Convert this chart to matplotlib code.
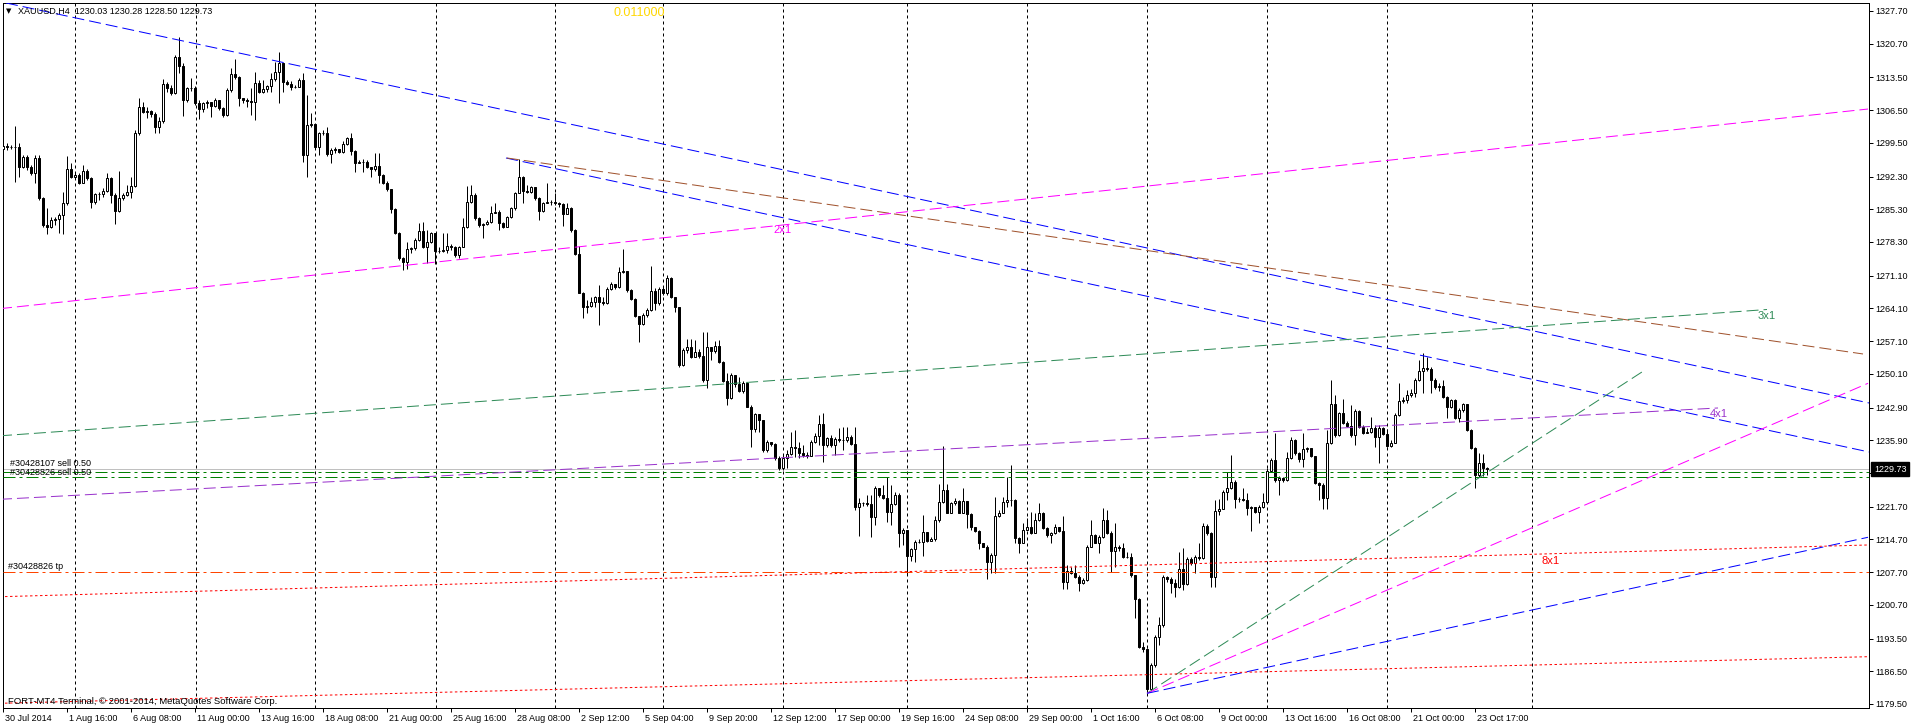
import numpy as np
import matplotlib
matplotlib.use("Agg")
import matplotlib.pyplot as plt
from matplotlib.transforms import ScaledTranslation

plt.rcParams['font.family'] = ['Liberation Sans', 'DejaVu Sans']
plt.rcParams['lines.scale_dashes'] = False

# XAUUSD H4 candles, 30 Jul - 23 Oct 2014
open_first = 1298.20
closes = [
    1298.83, 1298.61, 1298.54, 1298.68, 1294.26, 1296.55, 1294.41, 1293.12, 1296.19, 1287.64,
    1281.93, 1281.58, 1283.00, 1283.15, 1284.07, 1286.71, 1293.84, 1292.27, 1292.55, 1290.99,
    1293.55, 1291.91, 1286.92, 1288.56, 1288.56, 1289.28, 1291.91, 1288.35, 1285.00, 1287.64,
    1288.35, 1289.06, 1290.27, 1301.53, 1307.09, 1306.17, 1306.38, 1305.67, 1302.82, 1304.24,
    1312.08, 1311.16, 1310.09, 1317.79, 1315.93, 1308.66, 1311.16, 1311.30, 1308.09, 1306.74,
    1308.09, 1308.20, 1307.38, 1308.66, 1306.88, 1305.45, 1310.80, 1314.22, 1313.65, 1309.02,
    1308.66, 1308.50, 1308.31, 1312.37, 1310.44, 1310.94, 1311.66, 1313.08, 1314.72, 1316.50,
    1312.58, 1312.08, 1311.37, 1311.51, 1312.94, 1296.90, 1303.32, 1303.53, 1298.68, 1301.53,
    1301.68, 1297.04, 1297.97, 1298.11, 1297.61, 1299.25, 1300.46, 1297.83, 1295.26, 1295.48,
    1295.40, 1294.26, 1293.84, 1294.62, 1292.55, 1290.84, 1289.56, 1285.28, 1280.29, 1274.81,
    1274.09, 1276.80, 1276.94, 1278.73, 1280.72, 1277.30, 1278.37, 1280.15, 1276.44, 1276.30,
    1276.59, 1277.44, 1277.30, 1275.52, 1277.16, 1281.58, 1286.92, 1288.35, 1283.36, 1281.93,
    1282.15, 1282.65, 1284.57, 1284.79, 1282.29, 1281.43, 1283.72, 1285.50, 1288.71, 1292.13,
    1289.27, 1289.06, 1289.99, 1287.64, 1284.99, 1286.71, 1286.92, 1286.80, 1286.57, 1286.42,
    1284.29, 1285.50, 1280.86, 1275.73, 1267.46, 1264.47, 1264.61, 1265.54, 1266.47, 1265.54,
    1265.18, 1268.18, 1269.32, 1268.61, 1271.95, 1272.17, 1268.03, 1266.04, 1262.47, 1260.76,
    1262.69, 1263.76, 1267.89, 1265.18, 1268.18, 1267.32, 1270.53, 1266.47, 1264.33, 1251.99,
    1255.20, 1255.77, 1253.78, 1254.85, 1253.92, 1248.79, 1255.77, 1255.06, 1256.06, 1252.71,
    1248.65, 1244.87, 1249.86, 1247.93, 1246.51, 1248.22, 1243.09, 1238.24, 1241.52, 1240.24,
    1233.82, 1235.60, 1235.10, 1232.04, 1229.90, 1232.04, 1232.97, 1234.53, 1234.18, 1233.11,
    1232.75, 1232.54, 1235.60, 1236.81, 1239.38, 1234.89, 1236.31, 1234.89, 1236.17, 1235.96,
    1236.05, 1236.67, 1235.10, 1221.69, 1222.55, 1222.41, 1222.26, 1219.56, 1225.61, 1224.19,
    1223.48, 1220.62, 1222.26, 1224.19, 1216.13, 1216.70, 1211.14, 1212.57, 1214.21, 1214.15,
    1216.35, 1214.42, 1214.71, 1218.84, 1222.76, 1225.26, 1220.41, 1222.41, 1222.98, 1220.41,
    1222.98, 1220.13, 1217.28, 1216.56, 1213.85, 1213.14, 1209.93, 1211.36, 1219.70, 1220.41,
    1222.76, 1223.12, 1223.20, 1214.92, 1214.00, 1216.70, 1217.42, 1216.13, 1218.84, 1220.41,
    1217.06, 1215.63, 1216.13, 1217.28, 1216.56, 1205.66, 1208.01, 1207.58, 1206.73, 1205.44,
    1206.01, 1213.14, 1215.63, 1214.00, 1215.14, 1218.84, 1216.13, 1212.29, 1213.00, 1212.78,
    1211.00, 1210.90, 1207.08, 1201.88, 1191.76, 1191.19, 1182.63, 1187.84, 1193.75, 1196.39,
    1206.58, 1206.15, 1205.44, 1204.44, 1208.29, 1205.16, 1210.43, 1209.58, 1210.86, 1210.65,
    1217.56, 1215.99, 1206.73, 1220.84, 1221.13, 1224.90, 1225.62, 1227.04, 1223.26, 1223.30,
    1223.20, 1221.34, 1221.55, 1220.63, 1221.70, 1222.77, 1229.39, 1231.68, 1227.40, 1227.76,
    1227.40, 1232.03, 1235.95, 1233.10, 1231.82, 1233.96, 1234.17, 1232.53, 1226.69, 1226.33,
    1223.48, 1235.38, 1243.65, 1237.02, 1241.65, 1239.66, 1238.95, 1237.02, 1242.22, 1238.80,
    1237.52, 1237.73, 1238.45, 1236.67, 1238.45, 1237.23, 1234.67, 1235.38, 1241.30, 1244.36,
    1244.51, 1245.57, 1245.93, 1248.78, 1250.78, 1251.28, 1251.20, 1248.78, 1247.21, 1247.50,
    1245.22, 1242.94, 1244.51, 1240.58, 1242.37, 1243.65, 1238.09, 1234.17, 1228.47, 1231.10,
    1230.03, 1229.73,
]
highs = [
    1299.75, 1299.40, 1299.04, 1303.10, 1299.40, 1296.90, 1296.90, 1294.76, 1296.90, 1296.90,
    1288.00, 1285.50, 1283.72, 1283.72, 1284.43, 1289.06, 1296.69, 1295.12, 1292.98, 1292.98,
    1294.76, 1293.84, 1292.27, 1288.85, 1289.06, 1289.77, 1292.98, 1292.27, 1288.71, 1293.48,
    1288.85, 1290.49, 1292.27, 1302.25, 1309.02, 1308.31, 1307.24, 1306.52, 1306.17, 1305.10,
    1313.08, 1312.58, 1311.87, 1318.29, 1322.06, 1316.50, 1311.51, 1313.30, 1311.66, 1308.66,
    1308.31, 1308.66, 1308.31, 1309.02, 1307.95, 1307.09, 1311.16, 1315.43, 1317.36, 1313.79,
    1309.02, 1309.02, 1311.16, 1314.58, 1312.94, 1312.94, 1311.87, 1314.37, 1316.86, 1318.86,
    1314.72, 1312.94, 1312.80, 1311.87, 1313.30, 1314.51, 1309.73, 1305.81, 1302.82, 1301.89,
    1302.25, 1302.96, 1298.33, 1298.54, 1298.11, 1299.97, 1300.82, 1301.68, 1297.97, 1295.83,
    1295.97, 1295.83, 1294.41, 1297.26, 1297.26, 1292.84, 1291.41, 1289.56, 1285.50, 1280.51,
    1275.02, 1278.37, 1277.30, 1279.08, 1282.29, 1282.65, 1280.86, 1280.51, 1279.80, 1277.16,
    1280.29, 1280.15, 1277.87, 1277.44, 1277.44, 1283.36, 1290.27, 1290.49, 1288.71, 1283.57,
    1282.43, 1283.00, 1286.00, 1286.71, 1285.14, 1282.65, 1283.86, 1285.85, 1289.06, 1295.98,
    1292.41, 1290.49, 1290.27, 1290.13, 1287.85, 1286.92, 1290.84, 1287.28, 1288.85, 1286.92,
    1286.57, 1286.71, 1285.71, 1281.00, 1277.44, 1267.68, 1265.90, 1266.61, 1266.75, 1269.10,
    1266.61, 1268.75, 1269.82, 1269.32, 1273.02, 1276.73, 1271.60, 1268.18, 1266.25, 1261.62,
    1263.05, 1264.11, 1273.17, 1268.39, 1268.75, 1268.75, 1271.24, 1270.74, 1266.61, 1264.47,
    1255.56, 1257.48, 1257.48, 1257.34, 1255.35, 1258.98, 1258.98, 1255.35, 1257.13, 1257.34,
    1252.92, 1250.21, 1250.21, 1249.50, 1249.36, 1248.65, 1248.43, 1243.44, 1241.80, 1240.59,
    1238.67, 1235.96, 1235.60, 1235.24, 1232.54, 1232.75, 1233.82, 1237.74, 1238.10, 1235.60,
    1234.89, 1233.46, 1235.96, 1237.38, 1241.30, 1241.66, 1236.67, 1237.02, 1236.67, 1238.45,
    1238.67, 1238.81, 1237.02, 1238.80, 1223.48, 1222.76, 1224.19, 1224.19, 1226.11, 1225.61,
    1226.33, 1228.11, 1226.33, 1224.90, 1224.54, 1217.06, 1215.63, 1212.78, 1214.57, 1214.71,
    1219.91, 1216.35, 1215.28, 1219.70, 1226.54, 1234.67, 1226.54, 1222.76, 1223.48, 1223.12,
    1225.61, 1221.34, 1220.27, 1217.42, 1216.70, 1214.00, 1213.50, 1211.71, 1223.69, 1220.98,
    1223.69, 1227.97, 1230.60, 1223.26, 1215.28, 1218.13, 1219.20, 1220.62, 1220.41, 1222.55,
    1220.62, 1217.42, 1216.35, 1217.99, 1217.42, 1219.70, 1209.22, 1208.72, 1209.22, 1207.08,
    1206.37, 1213.50, 1218.84, 1215.85, 1215.63, 1221.34, 1220.98, 1216.56, 1218.13, 1213.50,
    1214.00, 1212.07, 1211.71, 1207.08, 1202.09, 1192.83, 1191.40, 1188.19, 1194.25, 1198.03,
    1207.08, 1206.87, 1206.73, 1206.15, 1212.07, 1212.79, 1211.00, 1211.00, 1211.36, 1213.86,
    1218.13, 1217.99, 1216.35, 1223.12, 1223.26, 1225.26, 1229.18, 1232.75, 1227.40, 1223.69,
    1225.62, 1224.69, 1221.84, 1221.70, 1222.05, 1224.69, 1229.89, 1232.03, 1237.38, 1228.25,
    1228.11, 1233.46, 1236.67, 1236.10, 1233.46, 1237.38, 1234.53, 1234.17, 1232.39, 1227.04,
    1226.69, 1238.09, 1248.78, 1245.57, 1242.01, 1244.65, 1240.09, 1243.44, 1242.51, 1242.37,
    1239.16, 1238.45, 1240.94, 1239.16, 1239.16, 1238.80, 1238.23, 1235.95, 1241.65, 1248.07,
    1245.08, 1246.65, 1246.79, 1249.14, 1253.06, 1254.48, 1253.77, 1251.64, 1249.14, 1248.07,
    1248.78, 1245.36, 1244.65, 1244.65, 1242.72, 1243.94, 1243.65, 1238.23, 1234.39, 1233.10,
    1232.96, 1230.28,
]
lows = [
    1297.61, 1297.97, 1298.11, 1291.20, 1292.13, 1294.05, 1293.69, 1292.62, 1290.84, 1287.28,
    1281.44, 1279.94, 1281.22, 1281.93, 1280.15, 1279.94, 1286.21, 1291.91, 1292.13, 1290.70,
    1290.84, 1291.56, 1285.50, 1286.42, 1287.28, 1287.99, 1289.06, 1286.71, 1282.07, 1284.78,
    1287.28, 1288.13, 1287.64, 1290.13, 1301.18, 1305.81, 1304.74, 1305.10, 1301.53, 1301.53,
    1303.82, 1310.44, 1309.73, 1309.95, 1314.51, 1305.24, 1308.31, 1310.66, 1307.59, 1304.60,
    1306.17, 1306.88, 1304.96, 1307.09, 1306.52, 1305.10, 1305.24, 1310.44, 1313.08, 1307.38,
    1307.95, 1307.24, 1305.45, 1304.39, 1310.09, 1310.23, 1310.44, 1310.44, 1312.80, 1308.09,
    1310.44, 1311.87, 1310.80, 1311.16, 1311.37, 1295.48, 1292.27, 1302.96, 1298.33, 1296.90,
    1301.18, 1296.69, 1295.12, 1297.40, 1297.26, 1297.26, 1299.04, 1296.90, 1293.34, 1295.12,
    1293.34, 1294.05, 1292.27, 1293.55, 1290.84, 1290.70, 1289.27, 1284.43, 1280.01, 1274.45,
    1272.31, 1272.45, 1275.88, 1276.59, 1278.58, 1276.94, 1273.74, 1278.16, 1273.59, 1276.02,
    1276.23, 1276.02, 1276.59, 1275.16, 1274.81, 1277.16, 1281.22, 1286.71, 1283.00, 1281.44,
    1279.22, 1281.93, 1282.43, 1284.43, 1280.86, 1281.22, 1281.43, 1283.36, 1285.14, 1288.71,
    1286.71, 1288.71, 1288.71, 1287.28, 1283.00, 1284.79, 1286.57, 1286.21, 1286.21, 1285.85,
    1281.72, 1284.79, 1280.51, 1275.52, 1267.32, 1261.97, 1263.05, 1264.47, 1264.47, 1260.55,
    1264.82, 1265.04, 1268.03, 1268.18, 1268.39, 1271.60, 1267.68, 1265.90, 1262.33, 1256.98,
    1260.55, 1262.33, 1263.61, 1263.76, 1264.82, 1266.96, 1266.96, 1266.25, 1263.40, 1251.64,
    1251.78, 1254.49, 1253.42, 1254.35, 1253.42, 1248.43, 1247.00, 1253.06, 1254.49, 1252.49,
    1248.43, 1243.44, 1244.65, 1247.36, 1246.29, 1245.94, 1242.94, 1234.53, 1237.74, 1237.74,
    1233.46, 1233.46, 1234.67, 1231.68, 1229.54, 1229.54, 1229.90, 1232.75, 1232.39, 1232.04,
    1232.25, 1232.04, 1232.75, 1235.24, 1234.89, 1231.32, 1234.53, 1234.53, 1232.75, 1235.60,
    1233.82, 1235.60, 1234.89, 1220.98, 1215.42, 1221.84, 1221.84, 1215.14, 1217.77, 1223.83,
    1223.26, 1218.49, 1217.77, 1222.05, 1213.14, 1213.50, 1207.30, 1210.15, 1209.93, 1213.85,
    1211.14, 1214.21, 1214.42, 1214.42, 1218.49, 1222.55, 1220.27, 1220.27, 1222.05, 1220.27,
    1220.62, 1217.06, 1216.70, 1216.35, 1212.57, 1213.00, 1206.15, 1207.44, 1207.44, 1219.41,
    1220.62, 1221.69, 1221.84, 1213.85, 1211.71, 1214.00, 1217.06, 1215.85, 1215.99, 1218.70,
    1216.85, 1215.28, 1214.00, 1215.85, 1216.35, 1204.02, 1204.02, 1207.30, 1206.37, 1203.73,
    1205.16, 1205.87, 1213.00, 1213.85, 1211.86, 1214.92, 1215.85, 1207.79, 1208.86, 1212.29,
    1210.65, 1210.65, 1206.73, 1197.81, 1191.40, 1190.69, 1181.78, 1182.49, 1187.48, 1192.11,
    1196.03, 1205.66, 1203.16, 1202.45, 1204.23, 1203.88, 1204.95, 1209.22, 1207.58, 1210.29,
    1210.43, 1215.63, 1204.45, 1204.45, 1219.91, 1221.13, 1223.12, 1225.40, 1221.34, 1222.76,
    1222.98, 1219.91, 1216.56, 1220.27, 1218.28, 1221.34, 1222.77, 1229.18, 1227.04, 1224.19,
    1227.04, 1227.26, 1231.82, 1232.74, 1231.32, 1230.25, 1233.46, 1232.25, 1226.54, 1223.12,
    1221.13, 1221.13, 1235.10, 1236.67, 1236.81, 1239.37, 1238.66, 1236.67, 1234.88, 1238.45,
    1237.23, 1237.38, 1237.52, 1234.53, 1230.96, 1237.02, 1234.39, 1234.53, 1235.24, 1241.08,
    1243.94, 1243.94, 1245.08, 1245.08, 1248.64, 1246.07, 1250.78, 1245.93, 1246.79, 1246.50,
    1244.86, 1240.58, 1242.72, 1240.37, 1239.87, 1242.01, 1237.95, 1233.96, 1225.62, 1228.11,
    1228.25, 1228.50,
]

date_labels = ["30 Jul 2014", "1 Aug 16:00", "6 Aug 08:00", "11 Aug 00:00", "13 Aug 16:00",
               "18 Aug 08:00", "21 Aug 00:00", "25 Aug 16:00", "28 Aug 08:00", "2 Sep 12:00",
               "5 Sep 04:00", "9 Sep 20:00", "12 Sep 12:00", "17 Sep 00:00", "19 Sep 16:00",
               "24 Sep 08:00", "29 Sep 00:00", "1 Oct 16:00", "6 Oct 08:00", "9 Oct 00:00",
               "13 Oct 16:00", "16 Oct 08:00", "21 Oct 00:00", "23 Oct 17:00"]
label_step = 16
week_bars = [18, 48.25, 78, 108.25, 138, 165, 195, 226, 256, 286, 316, 346, 382.25]
price_ticks = [1327.70, 1320.70, 1313.50, 1306.50, 1299.50, 1292.30, 1285.30, 1278.30,
               1271.10, 1264.10, 1257.10, 1250.10, 1242.90, 1235.90, 1228.90, 1221.70,
               1214.70, 1207.70, 1200.70, 1193.50, 1186.50, 1179.50]

# trend lines: (bar, price) anchors
blue_top = ([0.75, 466.5], [1329.41, 1243.87])
blue_mid = ([125.75, 466.5], [1296.26, 1233.39])
brown_line = ([126, 465], [1296.26, 1254.35])
gann_2x1 = ([-0.75, 466.25], [1264.04, 1306.73])
gann_3x1 = ([-0.75, 441], [1236.85, 1263.86])
gann_4x1 = ([-0.75, 428.75], [1223.27, 1242.80])
gann_8x1_up = ([-0.75, 466], [1202.44, 1213.50])
gann_8x1_lo = ([-0.75, 466], [1179.65, 1189.61])
fan_green = ([286, 410.5], [1181.78, 1250.92])
fan_magenta = ([286, 466.25], [1181.78, 1248.08])
fan_blue = ([286, 466.25], [1181.78, 1215.15])

bid = 1229.73
sell_prices = [1229.11, 1227.98]
sell_tickets = ["#30428107 sell 0.50", "#30428826 sell 0.50"]
tp_price = 1207.75

PX = 0.72  # points per pixel at 100 dpi
W, H = 1912, 726


def ls(*px):
    return (0, tuple(v * PX for v in px))


fig = plt.figure(figsize=(W / 100, H / 100), dpi=100)
ax = fig.add_axes([2.5 / W, 1 - 708.3 / H, (1869 - 2.5) / W, (708.3 - 2.5) / H])
ax.set_xlim(-0.125, 466.5)
ax.set_ylim(1178.58, 1329.51)

# grid
for b in week_bars:
    ax.axvline(b, color='black', lw=PX, linestyle=ls(3, 3), zorder=1)

# candles
c = np.array(closes)
o = np.concatenate([[open_first], c[:-1]])
x = np.arange(len(c))
ax.vlines(x, lows, highs, color='black', lw=PX, zorder=3)
up = c >= o
ax.bar(x[up], (c - o)[up], bottom=o[up], width=0.5, facecolor='white',
       edgecolor='black', lw=PX, zorder=4)
ax.bar(x[~up], (o - c)[~up], bottom=c[~up], width=0.5, facecolor='black',
       edgecolor='black', lw=PX, zorder=4)

# horizontal order lines
ax.axhline(bid, color='#C0C0C0', lw=PX, zorder=2)
for p in sell_prices:
    ax.axhline(p, color='#008000', lw=PX, linestyle=ls(12, 4, 3, 4), zorder=5)
ax.axhline(tp_price, color='#FF4500', lw=PX, linestyle=ls(12, 4, 3, 4), zorder=5)

# trend lines
dash = ls(12, 5)
for (xs, ps), col in [(blue_top, '#0000FF'), (blue_mid, '#0000FF'), (brown_line, '#A0522D'),
                      (gann_2x1, '#FF00FF'), (gann_3x1, '#2E8B57'), (gann_4x1, '#9932CC'),
                      (fan_green, '#2E8B57'), (fan_magenta, '#FF00FF'), (fan_blue, '#0000FF')]:
    ax.plot(xs, ps, color=col, lw=PX, linestyle=dash, zorder=6)
for xs, ps in [gann_8x1_up, gann_8x1_lo]:
    ax.plot(xs, ps, color='#FF0000', lw=PX, linestyle=ls(2.5, 2.5), zorder=6)

# object labels
ax.text(192.5, 1280.86, "2x1", color='#FF00FF', fontsize=8, va='center', zorder=7)
ax.text(438.75, 1262.47, "3x1", color='#2E8B57', fontsize=8, va='center', zorder=7)
ax.text(426.75, 1241.45, "4x1", color='#9932CC', fontsize=8, va='center', zorder=7)
ax.text(384.75, 1210.08, "8x1", color='#FF0000', fontsize=8, va='center', zorder=7)
ax.text(1.25, 1209.0, "#30428826 tp", fontsize=6.5, va='center', zorder=7)
ax.text(1.75, 1230.93, sell_tickets[0], fontsize=6.5, va='center', zorder=7)
ax.text(1.75, sell_prices[0], sell_tickets[1], fontsize=6.5, va='center', zorder=7)

# axes
for s in ax.spines.values():
    s.set_linewidth(PX)
ax.yaxis.tick_right()
ax.set_yticks(price_ticks, [f"{v:.2f}" for v in price_ticks])
ax.tick_params(axis='y', direction='out', length=4 * PX, width=PX, pad=2 * PX, labelsize=6.5)
ax.set_xticks(np.arange(len(date_labels)) * label_step, date_labels)
ax.tick_params(axis='x', direction='out', length=4 * PX, width=PX, pad=1, labelsize=6.5)
shift = ScaledTranslation(2 / 100, 0, fig.dpi_scale_trans)
for lbl in ax.get_xticklabels():
    lbl.set_horizontalalignment('left')
    lbl.set_transform(lbl.get_transform() + shift)

# current price box on the axis
ax.text(1.0, bid, "1229.73", transform=ax.get_yaxis_transform() +
        ScaledTranslation(5 / 100, 0, fig.dpi_scale_trans),
        color='white', fontsize=6.5, va='center', ha='left', clip_on=False, zorder=10,
        bbox=dict(boxstyle='square,pad=0.3', facecolor='black', edgecolor='black'))

# header / footer
fig.text(6 / W, 1 - 11.5 / H, "\u25bc", fontsize=5, family='DejaVu Sans', va='center')
fig.text(18 / W, 1 - 11.5 / H, "XAUUSD,H4  1230.03 1230.28 1228.50 1229.73",
         fontsize=6.5, va='center')
fig.text(613 / W, 1 - 12.7 / H, "0.011000", color='#FFD700', fontsize=9, va='center')
fig.text(8 / W, 1 - 701 / H, "FORT-MT4 Terminal, \u00a9 2001-2014, MetaQuotes Software Corp.",
         fontsize=6.8, va='center')

fig.savefig("out.png", dpi=100)
